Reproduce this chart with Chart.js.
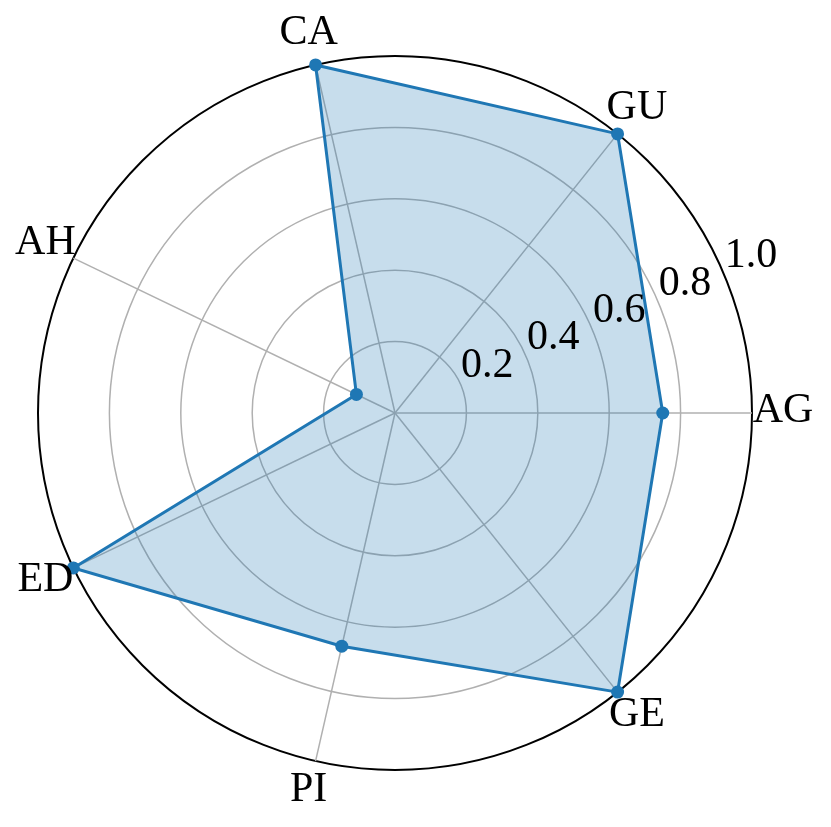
<!DOCTYPE html>
<html>
<head>
<meta charset="utf-8">
<title>Radar</title>
<script src="https://cdn.jsdelivr.net/npm/chart.js@4/dist/chart.umd.min.js"></script>
<style>
    html, body { margin: 0; padding: 0; background: #ffffff; }
    #radarChart { display: block; }
</style>
</head>
<body>
<canvas id="radarChart" width="831" height="827"></canvas>
<script>
// categories go counter-clockwise from the right, like the original polar plot
const categories = ['AG', 'GU', 'CA', 'AH', 'ED', 'PI', 'GE'];
const scores = [0.75, 1.0, 1.0, 0.12, 1.0, 0.67, 1.0];
const tickValues = [0.2, 0.4, 0.6, 0.8, 1.0];
const tickLabels = ['0.2', '0.4', '0.6', '0.8', '1.0'];

const fontSize = 42;
const labelFont = fontSize + 'px "Liberation Serif", "Times New Roman", serif';

// Chart.js walks clockwise, so flip the order after the first entry
function clockwise(arr) {
    return [arr[0]].concat(arr.slice(1).reverse());
}

// draws category names and radial tick labels where matplotlib puts them
const polarText = {
    id: 'polarText',
    afterDraw(chart) {
        const scale = chart.scales.r;
        const ctx = chart.ctx;
        const labels = chart.data.labels;
        ctx.save();
        ctx.font = labelFont;
        ctx.fillStyle = '#000000';

        // category names centred just outside the outer ring
        ctx.textAlign = 'center';
        ctx.textBaseline = 'alphabetic';
        labels.forEach((label, i) => {
            const pos = scale.getPointPosition(i, scale.drawingArea + 31);
            ctx.fillText(label, pos.x, pos.y + fontSize * 0.22);
        });

        // radial tick labels along 22.5 degrees, anchored bottom-left
        const angle = -22.5 * Math.PI / 180;
        ctx.textAlign = 'left';
        tickValues.forEach((v, i) => {
            const d = scale.getDistanceFromCenterForValue(v);
            const x = scale.xCenter + Math.cos(angle) * d;
            const y = scale.yCenter + Math.sin(angle) * d;
            ctx.fillText(tickLabels[i], x, y - fontSize * 0.216);
        });
        ctx.restore();
    }
};

document.addEventListener('DOMContentLoaded', () => {
    const radarCtx = document.getElementById('radarChart').getContext('2d');
    new Chart(radarCtx, {
        type: 'radar',
        data: {
            labels: clockwise(categories),
            datasets: [{
                data: clockwise(scores),
                borderColor: '#1f77b4',
                backgroundColor: 'rgba(31, 119, 180, 0.25)',
                borderWidth: 3,
                fill: true,
                pointRadius: 6.5,
                pointBackgroundColor: '#1f77b4',
                pointBorderColor: '#1f77b4',
                pointBorderWidth: 0,
                tension: 0
            }]
        },
        options: {
            responsive: false,
            animation: false,
            devicePixelRatio: 1,
            layout: {
                padding: { left: 38, right: 79, top: 56, bottom: 57 }
            },
            scales: {
                r: {
                    min: 0,
                    max: 1,
                    startAngle: 90,
                    beginAtZero: true,
                    ticks: {
                        display: false,
                        stepSize: 0.2
                    },
                    pointLabels: { display: false },
                    angleLines: {
                        display: true,
                        color: '#b0b0b0',
                        lineWidth: 1.5
                    },
                    grid: {
                        circular: true,
                        color: (c) => (c.tick && Math.abs(c.tick.value - 1) < 1e-9) ? '#000000' : '#b0b0b0',
                        lineWidth: (c) => (c.tick && Math.abs(c.tick.value - 1) < 1e-9) ? 2 : 1.5
                    }
                }
            },
            plugins: {
                legend: { display: false },
                tooltip: { enabled: false }
            }
        },
        plugins: [polarText]
    });
});
</script>
</body>
</html>
